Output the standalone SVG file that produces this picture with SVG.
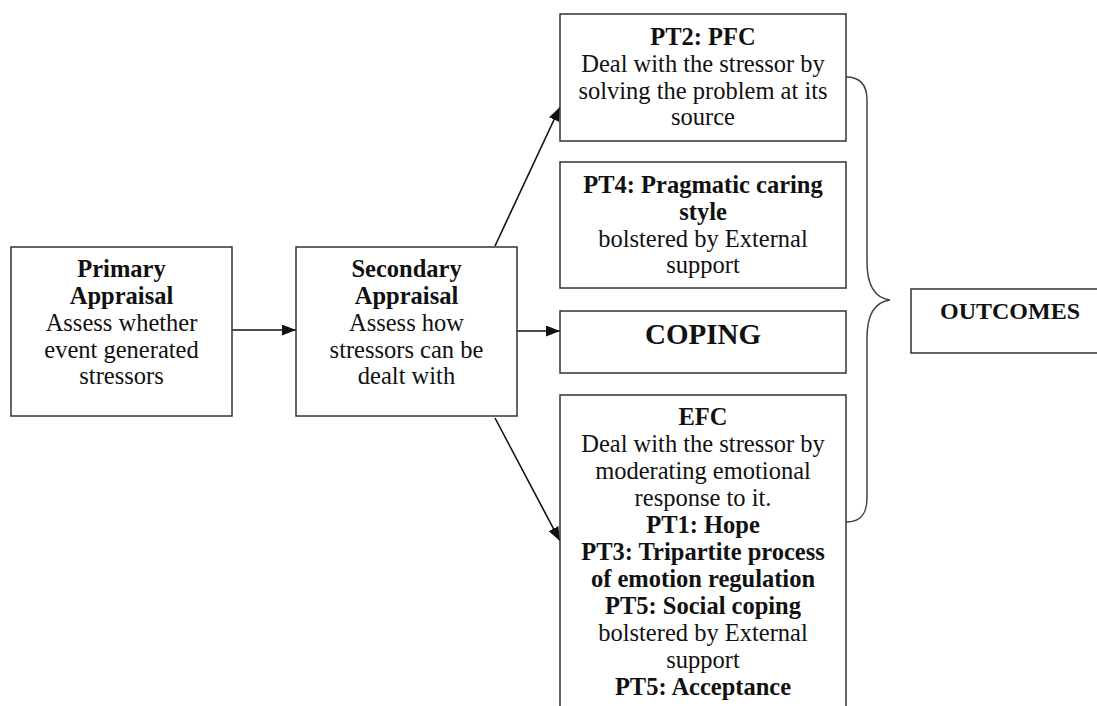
<svg xmlns="http://www.w3.org/2000/svg" width="1097" height="706" viewBox="0 0 1097 706">
<defs>
<style>
.box{fill:#fff;stroke:#333;stroke-width:1.5}
text{font-family:"Liberation Serif","Times New Roman",serif;font-size:24.5px;fill:#111;text-anchor:middle}
.b{font-weight:bold}
.con{stroke:#111;stroke-width:1.6;fill:none}
</style>
<marker id="ah" viewBox="0 0 14 11" refX="14" refY="5.5" markerWidth="14" markerHeight="11" markerUnits="userSpaceOnUse" orient="auto">
<path d="M0,0 L14,5.5 L0,11 Z" fill="#111"/>
</marker>
</defs>
<rect width="1097" height="706" fill="#fff"/>
<g id="connectors">
<line class="con" x1="232" y1="330" x2="296" y2="330" marker-end="url(#ah)"/>
<line class="con" x1="517" y1="331" x2="560" y2="331" marker-end="url(#ah)"/>
<line class="con" x1="495" y1="246" x2="560" y2="107" marker-end="url(#ah)"/>
<line class="con" x1="495" y1="418" x2="560" y2="541" marker-end="url(#ah)"/>
<path class="con" style="stroke:#444;stroke-width:1.5" d="M846,77 C861,77 867,85 867,100 L867,262 C867,285 875,298 890,300 C875,302 867,315 867,338 L867,498 C867,514 861,522 846,522"/>
</g>
<g id="primary">
<rect class="box" x="11" y="247" width="221" height="169"/>
<text x="121.5" y="277" class="b">Primary</text>
<text x="121.5" y="304" class="b">Appraisal</text>
<text x="121.5" y="331">Assess whether</text>
<text x="121.5" y="358">event generated</text>
<text x="121.5" y="384">stressors</text>
</g>
<g id="secondary">
<rect class="box" x="296" y="247" width="221" height="169"/>
<text x="406.5" y="277" class="b">Secondary</text>
<text x="406.5" y="304" class="b">Appraisal</text>
<text x="406.5" y="331">Assess how</text>
<text x="406.5" y="358">stressors can be</text>
<text x="406.5" y="384">dealt with</text>
</g>
<g id="pt2">
<rect class="box" x="560" y="14" width="286" height="127"/>
<text x="703" y="45" class="b">PT2: PFC</text>
<text x="703" y="72">Deal with the stressor by</text>
<text x="703" y="99">solving the problem at its</text>
<text x="703" y="125">source</text>
</g>
<g id="pt4">
<rect class="box" x="560" y="162" width="286" height="126"/>
<text x="703" y="193" class="b">PT4: Pragmatic caring</text>
<text x="703" y="220" class="b">style</text>
<text x="703" y="247">bolstered by External</text>
<text x="703" y="273">support</text>
</g>
<g id="coping">
<rect class="box" x="560" y="311" width="286" height="62"/>
<text x="703" y="344" class="b" style="font-size:29px">COPING</text>
</g>
<g id="efc">
<rect class="box" x="560" y="395" width="286" height="330"/>
<text x="703" y="425" class="b">EFC</text>
<text x="703" y="452">Deal with the stressor by</text>
<text x="703" y="479">moderating emotional</text>
<text x="703" y="506">response to it.</text>
<text x="703" y="533" class="b">PT1: Hope</text>
<text x="703" y="560" class="b">PT3: Tripartite process</text>
<text x="703" y="587" class="b">of emotion regulation</text>
<text x="703" y="614" class="b">PT5: Social coping</text>
<text x="703" y="641">bolstered by External</text>
<text x="703" y="668">support</text>
<text x="703" y="695" class="b">PT5: Acceptance</text>
</g>
<g id="outcomes">
<rect class="box" x="911" y="289" width="200" height="64"/>
<text x="1010" y="319" class="b" style="font-size:24px">OUTCOMES</text>
</g>
</svg>
